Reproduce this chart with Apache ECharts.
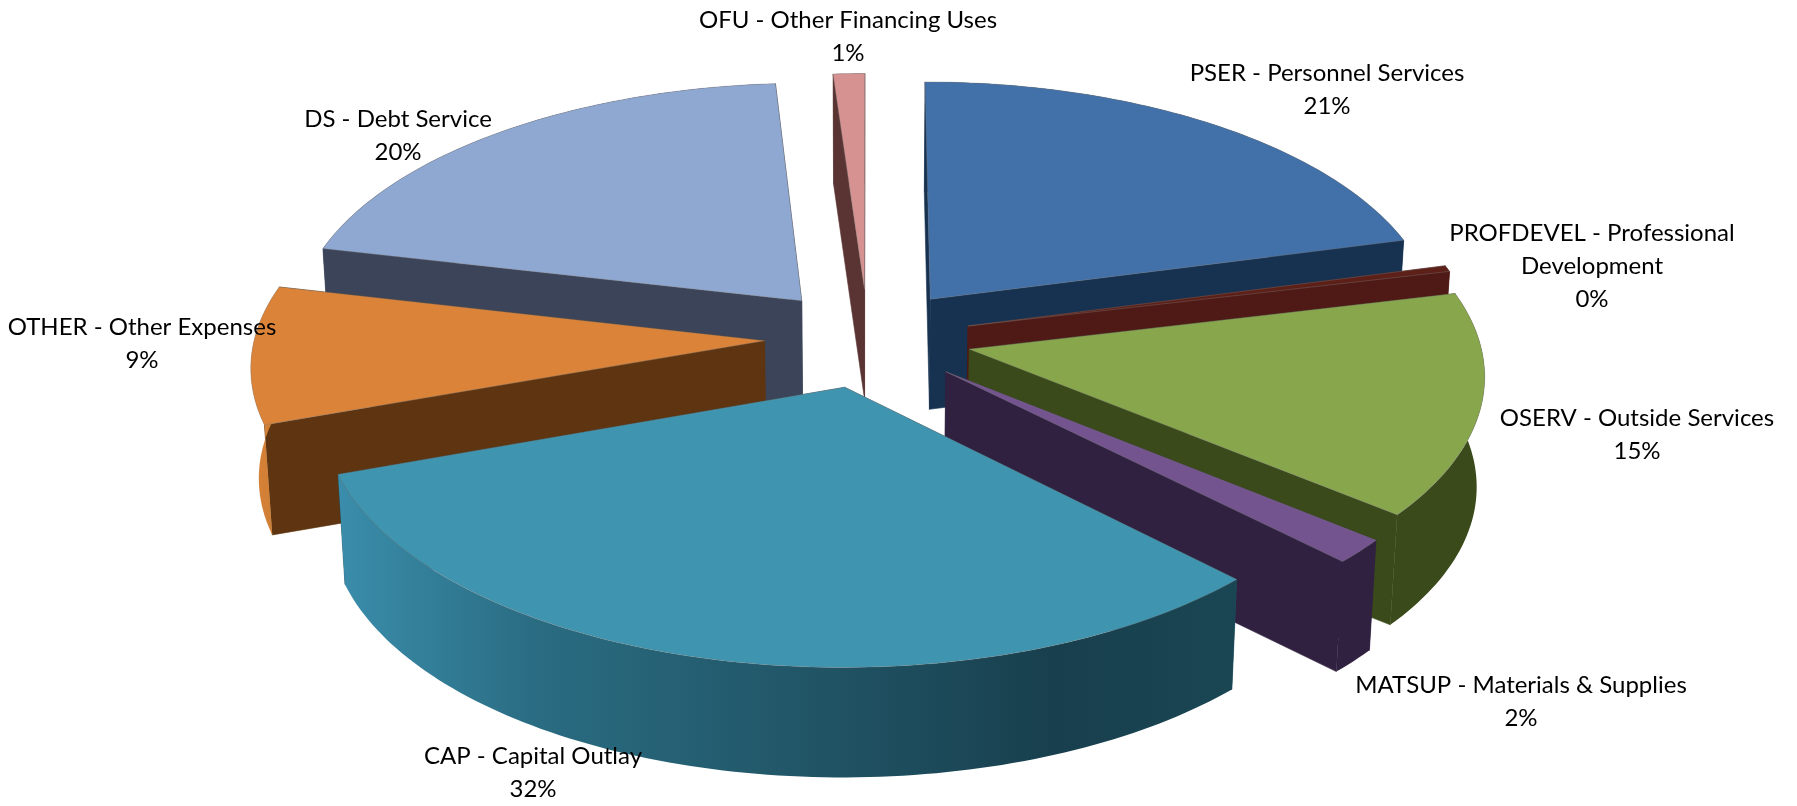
<!DOCTYPE html>
<html><head><meta charset="utf-8">
<style>html,body{margin:0;padding:0;background:#fff}#c{width:1797px;height:806px}</style>
<script src="https://cdn.jsdelivr.net/npm/echarts@6/dist/echarts.min.js"></script>
</head><body><div id="c"></div>
<script>
// Data (percent of total); start at 12 o'clock, clockwise
const categories = ['PSER - Personnel Services','PROFDEVEL - Professional\nDevelopment','OSERV - Outside Services','MATSUP - Materials & Supplies','CAP - Capital Outlay','OTHER - Other Expenses','DS - Debt Service','OFU - Other Financing Uses'];
const values = [20.9,0.4,14.6,1.6,32.1,9.0,20.3,1.1];
const percentLabels = ['21%','0%','15%','2%','32%','9%','20%','1%'];

// Style and layout
const topColors  = ['#4270a8','#5c2018','#88a64c','#74548f','#3f95b0','#db8338','#8fa8d1','#d69290'];
const sideColors = ['#173250','#4f1a15','#3a4a1a','#2f213f','#1e4f62','#5e3510','#3c4459','#5a3433'];
const wallStops  = [
  [[0,'#173250'],[1,'#173250']],
  [[0,'#4f1a15'],[1,'#4f1a15']],
  [[0,'#3a4a1a'],[1,'#3a4a1a']],
  [[0,'#2f213f'],[1,'#2f213f']],
  [[0,'#3a8dab'],[0.22,'#2a6c82'],[0.55,'#205364'],[0.8,'#183f4d'],[1,'#1a4654']],
  [[0,'#d9843a'],[1,'#c97a30']],
  [[0,'#3c4459'],[1,'#3c4459']],
  [[0,'#5a3433'],[1,'#5a3433']]
];
const labelCenters = [[1327,90],[1592,266],[1637,435],[1521,702],[533,773],[142,344],[398,136],[848,37]];
const drawOrder = [7,6,0,1,5,2,3,4];
const CX=868, CY=338, RX=510, RY=244.4, PERSP=0.0928, EXPLODE=0.203, DEPTH=110;

const total = values.reduce((a,b)=>a+b,0);
function project(U,V,bottom){
  const s = 1/(1-PERSP*V);
  let x = CX + RX*U*s, y = CY + RY*V*s;
  if(bottom){ x = CX + (x-CX)*0.987; y += DEPTH; }
  return [x,y];
}
function slicePolys(i){
  let before = 0; for(let k=0;k<i;k++) before += values[k];
  const a0 = before/total*2*Math.PI, a1 = (before+values[i])/total*2*Math.PI, m=(a0+a1)/2;
  const ou = EXPLODE*Math.sin(m), ov = -EXPLODE*Math.cos(m);
  const pt=(a,b)=>project(ou+Math.sin(a),ov-Math.cos(a),b);
  const apex=b=>project(ou,ov,b);
  const arcTop=[],arcBot=[];
  const n=Math.max(4,Math.ceil((a1-a0)/0.02));
  for(let j=0;j<=n;j++){const a=a0+(a1-a0)*j/n;arcTop.push(pt(a,false));arcBot.push(pt(a,true));}
  return {
    top:[apex(false)].concat(arcTop),
    wallA:[apex(false),pt(a0,false),pt(a0,true),apex(true)],
    wallB:[apex(false),pt(a1,false),pt(a1,true),apex(true)],
    outer:arcTop.concat(arcBot.slice().reverse())
  };
}
function renderItem(params,api){
  const i = drawOrder[params.dataIndex];
  const p = slicePolys(i);
  const side = sideColors[i];
  const poly=(pts,fill,stroke,w)=>({type:'polygon',silent:true,shape:{points:pts},style:{fill:fill,stroke:stroke,lineWidth:w===undefined?0.6:w}});
  const grad = new echarts.graphic.LinearGradient(0,0,1,0,wallStops[i].map(s=>({offset:s[0],color:s[1]})));
  return {type:'group',children:[
    poly(p.wallA,side,side),
    poly(p.wallB,side,side),
    poly(p.outer,grad,'rgba(0,0,0,0)',0),
    poly(p.top,topColors[i],'rgba(125,125,125,0.45)',0.8)
  ]};
}
function renderLabel(params,api){
  const i = params.dataIndex, c = labelCenters[i];
  return {type:'text',silent:true,x:c[0],y:c[1],style:{
    text:categories[i]+'\n'+percentLabels[i],
    fill:'#000',font:'24px Lato',align:'center',verticalAlign:'middle',lineHeight:33
  }};
}
const chart = echarts.init(document.getElementById('c'),null,{renderer:'canvas'});
chart.setOption({
  animation:false,
  backgroundColor:'#ffffff',
  series:[
    {type:'custom',name:'slices',coordinateSystem:'none',renderItem:renderItem,z:1,
     data:drawOrder.map(i=>({name:categories[i],value:[values[i]]}))},
    {type:'custom',name:'labels',coordinateSystem:'none',renderItem:renderLabel,z:2,
     data:categories.map((n,i)=>({name:n,value:[values[i]]}))}
  ]
});
</script></body></html>
